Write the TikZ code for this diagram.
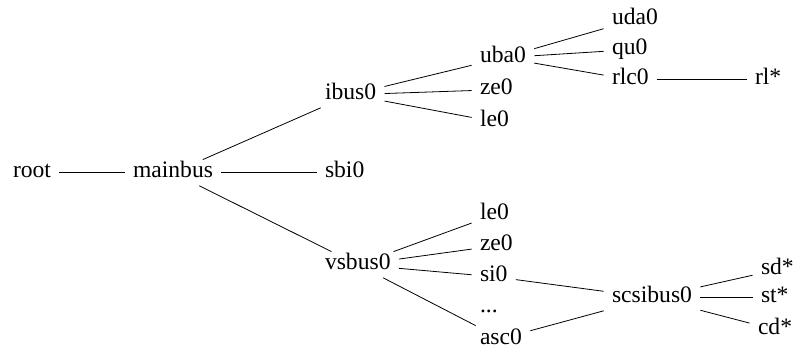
\documentclass[tikz,border=0pt]{standalone}
\usepackage{fontspec}
\setmainfont{Liberation Serif}
\begin{document}
\begin{tikzpicture}[x=0.5pt, y=-0.5pt, dev/.style={anchor=text, inner xsep=4pt, inner ysep=2pt, text height=7pt, text depth=1.7pt, font=\fontsize{11.8}{14}\selectfont}]
\useasboundingbox (0,0) rectangle (793,352);
\node[dev] (root) at (13,178){root};
\node[dev] (mainbus) at (133,178){mainbus};
\node[dev] (ibus0) at (325,100){ibus0};
\node[dev] (sbi0) at (325,178){sbi0};
\node[dev] (vsbus0) at (325,270){vsbus0};
\draw[](root) -- (mainbus);
\draw[](mainbus) -- (ibus0);
\draw[](mainbus) -- (sbi0);
\draw[](mainbus) -- (vsbus0);
\node[dev] (uba0) at (480,63){uba0};
\node[dev] (ize0) at (480,95){ze0};
\node[dev] (ile0) at (480,127){le0};
\draw[](ibus0) -- (uba0);
\draw[](ibus0) -- (ize0);
\draw[](ibus0) -- (ile0);
\node[dev] (uda0) at (612,25){uda0};
\node[dev] (qu0) at (612,55){qu0};
\node[dev] (rlc0) at (612,85){rlc0};
\node[dev] (rl) at (755,85){rl*};
\draw[](uba0) -- (uda0);
\draw[](uba0) -- (qu0);
\draw[](uba0) -- (rlc0);
\draw[](rlc0) -- (rl);
\node[dev] (vle0) at (480,220){le0};
\node[dev] (vze0) at (480,251){ze0};
\node[dev] (si0) at (480,282){si0};
\node[dev] (dots) at (480,313){...};
\node[dev] (asc0) at (480,344){asc0};
\draw[](vsbus0) -- (vle0);
\draw[](vsbus0) -- (vze0);
\draw[](vsbus0) -- (si0);
\draw[](vsbus0) -- (asc0);
\node[dev] (scsibus0) at (612,303){scsibus0};
\draw[](si0) -- (scsibus0);
\draw[](asc0) -- (scsibus0);
\node[dev] (sd) at (761,275){sd*};
\node[dev] (st) at (761,303){st*};
\node[dev] (cd) at (758,335){cd*};
\draw[](scsibus0) -- (sd);
\draw[](scsibus0) -- (st);
\draw[](scsibus0) -- (cd);
\end{tikzpicture}
\end{document}
